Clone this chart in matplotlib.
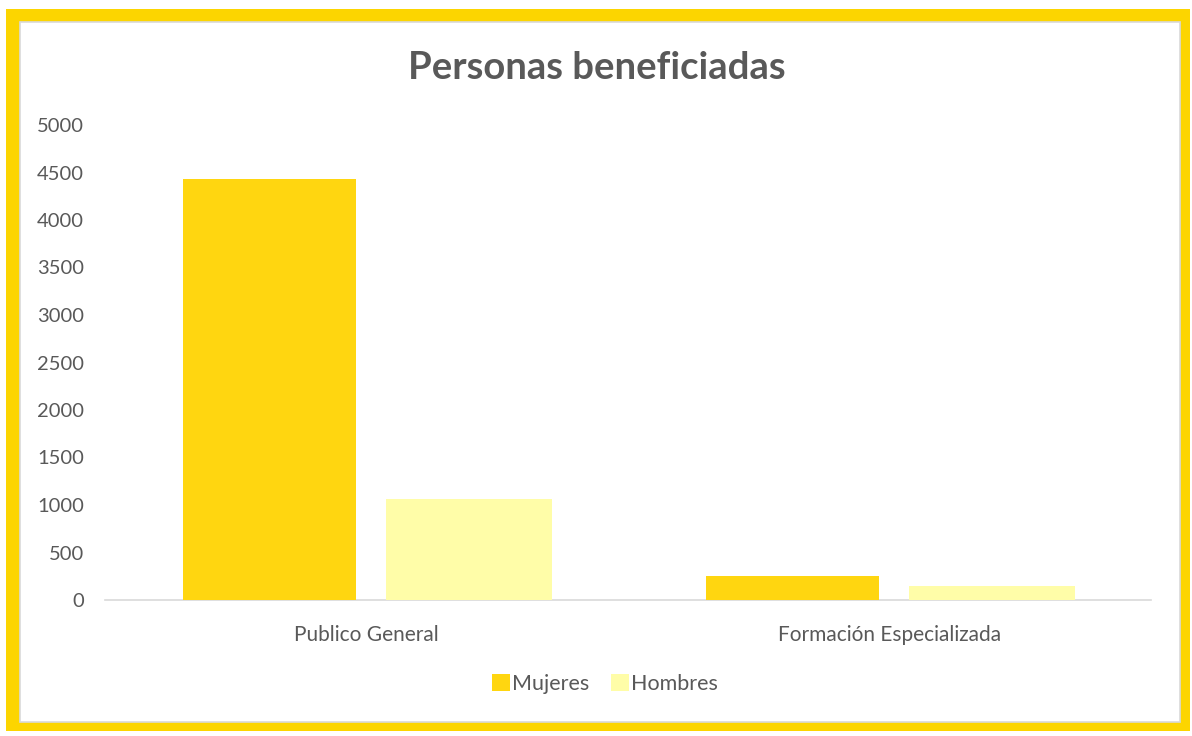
import numpy as np
import matplotlib.pyplot as plt
from matplotlib.patches import Rectangle

# data
categories = ["Publico General", "Formación Especializada"]
mujeres = [4430, 255]
hombres = [1060, 150]
series_names = ["Mujeres", "Hombres"]
yticks = [0, 500, 1000, 1500, 2000, 2500, 3000, 3500, 4000, 4500, 5000]

plt.rcParams['font.family'] = ['Lato', 'DejaVu Sans']
grey = '#595959'
c_muj = '#FFD610'
c_hom = '#FFFDA8'
frame = '#FCD500'

fig = plt.figure(figsize=(11.92, 7.36), dpi=100)
W, H = 1192, 736

# yellow frame with white panel inside
fig.patches.append(Rectangle((6/W, 1 - 731/H), 1184/W, 722/H, transform=fig.transFigure,
                             facecolor=frame, edgecolor='none', zorder=0))
fig.patches.append(Rectangle((20/W, 1 - 722/H), 1160/W, 700/H, transform=fig.transFigure,
                             facecolor='white', edgecolor='#d9d9d9', lw=1.2, zorder=1))

ax = fig.add_axes([105/W, 1 - 600/H, 1046/W, 475/H])
ax.set_facecolor('none')
ax.set_zorder(3)

x = np.arange(len(categories))
ax.bar(x - 0.186, mujeres, 0.33, color=c_muj, label=series_names[0], zorder=3)
ax.bar(x + 0.196, hombres, 0.317, color=c_hom, label=series_names[1], zorder=3)

ax.set_xlim(-0.5, 1.5)
ax.set_ylim(0, 5000)
ax.set_yticks(yticks)
ax.set_xticks(x)
ax.set_xticklabels(categories)
for s in ['top', 'right', 'left']:
    ax.spines[s].set_visible(False)
ax.spines['bottom'].set_color('#d9d9d9')
ax.spines['bottom'].set_linewidth(1.2)
ax.tick_params(axis='both', length=0, colors=grey)
ax.tick_params(axis='y', pad=15, labelsize=14.5)
ax.tick_params(axis='x', pad=18, labelsize=15)

fig.text(597/W, 1 - 68/H, "Personas beneficiadas", ha='center', va='center',
         fontsize=27.5, fontweight='bold', color=grey, zorder=4)

leg = fig.legend(loc='center', bbox_to_anchor=(605/W, 1 - 684/H), ncol=2, frameon=False,
                 fontsize=15.5, handlelength=0.85, handleheight=0.85, handletextpad=0.1,
                 columnspacing=1.0, labelcolor=grey)
leg.set_zorder(4)

fig.savefig('out.png', dpi=100)
